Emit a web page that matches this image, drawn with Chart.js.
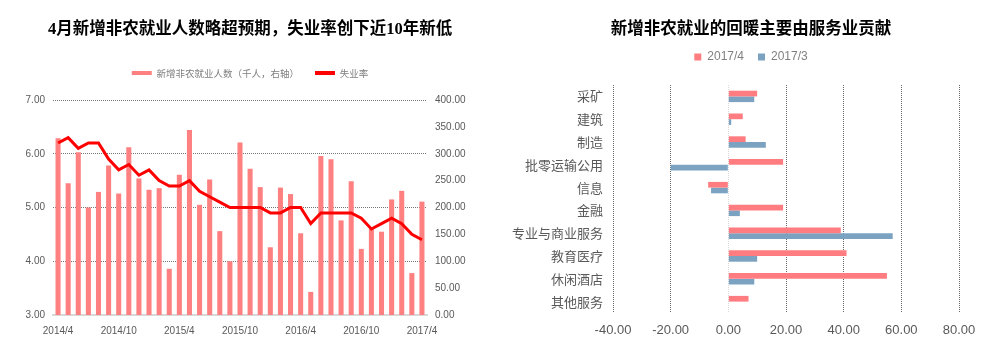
<!DOCTYPE html>
<html><head><meta charset="utf-8">
<script src="https://cdn.jsdelivr.net/npm/chart.js@4"></script>
<style>
html,body{margin:0;padding:0;background:#fff;width:995px;height:361px;overflow:hidden}
#c1{position:absolute;left:0;top:0}
#c2{position:absolute;left:497px;top:0}
</style></head><body>
<canvas id="c1" width="497" height="361"></canvas>
<canvas id="c2" width="498" height="361"></canvas>
<script>
// ---- Left chart data ----
const months = ['2014/4','2014/5','2014/6','2014/7','2014/8','2014/9','2014/10','2014/11','2014/12',
  '2015/1','2015/2','2015/3','2015/4','2015/5','2015/6','2015/7','2015/8','2015/9','2015/10','2015/11','2015/12',
  '2016/1','2016/2','2016/3','2016/4','2016/5','2016/6','2016/7','2016/8','2016/9','2016/10','2016/11','2016/12',
  '2017/1','2017/2','2017/3','2017/4'];
const payrolls = [329,245,303,200,229,278,226,312,254,233,
  236,86,261,344,205,252,156,100,321,272,
  238,126,237,225,152,43,296,290,176,249,
  123,161,155,215,231,78,211];
const unemployment = [6.2,6.3,6.1,6.2,6.2,5.9,5.7,5.8,5.6,5.7,
  5.5,5.4,5.4,5.5,5.3,5.2,5.1,5.0,5.0,5.0,
  5.0,4.9,4.9,5.0,5.0,4.7,4.9,4.9,4.9,4.9,
  4.8,4.6,4.7,4.8,4.7,4.5,4.4];
const rateAxis = {min:3, max:7, step:1};
const payrollAxis = {min:0, max:400, step:50};

// ---- Right chart data ----
const sectors = ['采矿','建筑','制造','批零运输公用','信息','金融','专业与商业服务','教育医疗','休闲酒店','其他服务'];
const apr2017 = [10,5,6,19,-7,19,39,41,55,7];
const mar2017 = [9,1,13,-20,-6,4,57,10,9,0];
const changeAxis = {min:-40, max:80, step:20};

const SANS = "'Liberation Sans',Arial,sans-serif";
const CJK = "'Noto Sans CJK SC','Noto Sans',sans-serif";

const legendSpacer = extra => ({
  id:'legendSpacer',
  beforeInit(chart){
    const lg = chart.legend;
    if(!lg) return;
    const fit = lg.fit;
    lg.fit = function(){ fit.call(this); this.height += extra; };
  }
});
// let category labels extend into the left padding without being clipped
const unclipY = {
  id:'unclipY',
  afterLayout(chart){ if(chart.scales.y) chart.scales.y.left = 0; }
};

new Chart(document.getElementById('c1'), {
  data:{
    labels: months,
    datasets:[
      {type:'line', label:'失业率', data:unemployment, yAxisID:'y', borderColor:'#FF0000', backgroundColor:'#FF0000',
       borderWidth:3, pointRadius:0, tension:0},
      {type:'bar', label:'新增非农就业人数（千人，右轴）', data:payrolls, yAxisID:'y1', backgroundColor:'#FF8080',
       barPercentage:0.5, categoryPercentage:1}
    ]
  },
  options:{
    responsive:false, animation:false,
    layout:{padding:{left:3,right:0,top:0,bottom:0}},
    plugins:{
      tooltip:{enabled:false},
      title:{display:true, text:'4月新增非农就业人数略超预期，失业率创下近10年新低', color:'#000',
        font:{family:"'Liberation Serif','Noto Sans CJK SC',serif", size:16.5, weight:'bold', lineHeight:1},
        padding:{top:21,bottom:14.75}},
      legend:{display:true, labels:{boxWidth:20, boxHeight:4, padding:16, color:'#7f7f7f',
        font:{family:CJK, size:9.5},
        generateLabels:(chart)=>chart.data.datasets.map((ds,i)=>({
          text:ds.label, fillStyle: i===0?'#FF0000':'#FF8080', strokeStyle:'rgba(0,0,0,0)', lineWidth:0,
          hidden:false, datasetIndex:i, fontColor:'#7f7f7f'})).reverse()
      }}
    },
    scales:{
      x:{
        grid:{display:false, drawTicks:false},
        border:{display:true, color:'#d9d9d9', width:2},
        ticks:{autoSkip:false, maxRotation:0, minRotation:0, padding:10, color:'#595959',
          font:{family:SANS, size:10},
          callback:(v,i)=> i%6===0 ? months[i] : ''},
        afterFit:s=>{s.height=46;}
      },
      y:{
        position:'left', min:rateAxis.min, max:rateAxis.max,
        ticks:{stepSize:rateAxis.step, padding:8, color:'#595959', font:{family:SANS, size:10},
          callback:v=>Number(v).toFixed(2)},
        grid:{drawTicks:false, color:c=> (c.tick && c.tick.value===rateAxis.min) ? 'rgba(0,0,0,0)' : '#777', lineWidth:1},
        border:{display:false, dash:[1,1]},
        afterFit:s=>{s.width=50;}
      },
      y1:{
        position:'right', min:payrollAxis.min, max:payrollAxis.max,
        ticks:{stepSize:payrollAxis.step, padding:8, color:'#595959', font:{family:SANS, size:10},
          callback:v=>Number(v).toFixed(2)},
        grid:{display:false, drawTicks:false},
        border:{display:false},
        afterFit:s=>{s.width=70;}
      }
    }
  },
  plugins:[legendSpacer(12.25)]
});

new Chart(document.getElementById('c2'), {
  type:'bar',
  data:{
    labels: sectors,
    datasets:[
      {label:'2017/4', data:apr2017, backgroundColor:'#FF7C80'},
      {label:'2017/3', data:mar2017, backgroundColor:'#7BA3C1'}
    ]
  },
  options:{
    indexAxis:'y', responsive:false, animation:false,
    layout:{padding:{left:46,right:36,top:0,bottom:0}},
    datasets:{bar:{categoryPercentage:0.5, barPercentage:1}},
    plugins:{
      tooltip:{enabled:false},
      title:{display:true, text:'新增非农就业的回暖主要由服务业贡献', color:'#000',
        font:{family:CJK, size:16.5, weight:'bold', lineHeight:1},
        padding:{top:19,bottom:1.5}},
      legend:{display:true, labels:{boxWidth:7, boxHeight:7, padding:14, color:'#7f7f7f',
        font:{family:SANS, size:12}}}
    },
    scales:{
      x:{
        min:changeAxis.min, max:changeAxis.max,
        ticks:{stepSize:changeAxis.step, padding:10, color:'#595959', font:{family:SANS, size:13},
          callback:v=>Number(v).toFixed(2)},
        grid:{drawTicks:false, color:c=> (c.tick && c.tick.value===0) ? '#d9d9d9' : '#666', lineWidth:1},
        border:{display:false, dash:[1,1]},
        afterFit:s=>{s.height=48;}
      },
      y:{
        grid:{display:false, drawTicks:false},
        border:{display:false},
        ticks:{padding:10, color:'#595959', font:{family:CJK, size:13}},
        afterFit:s=>{s.width=70;}
      }
    }
  },
  plugins:[legendSpacer(12), unclipY]
});
</script>
</body></html>
